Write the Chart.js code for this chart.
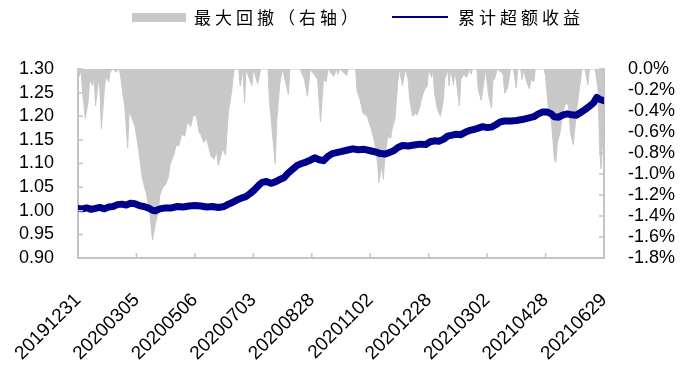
<!DOCTYPE html>
<html>
<head>
<meta charset="utf-8">
<script src="https://cdn.jsdelivr.net/npm/chart.js@4/dist/chart.umd.min.js"></script>
<style>
  body { margin: 0; background: #fff; }
  #wrap { width: 693px; height: 372px; }
</style>
</head>
<body>
<div id="wrap"><canvas id="chart"></canvas></div>
<script>
// x axis: trading day index, one label every 40 days
const tickLabels = ['20191231', '20200305', '20200506', '20200703', '20200828',
    '20201102', '20201228', '20210302', '20210428', '20210629'];

const seriesNames = ['累计超额收益', '最大回撤（右轴）'];

// cumulative excess return (left axis)
const returnDays = [
    0, 3, 6, 9, 12, 15, 18, 21, 24, 27,
    30, 33, 36, 39, 42, 45, 48, 51, 53, 56,
    60, 64, 68, 72, 76, 80, 84, 88, 92, 96,
    100, 103, 106, 109, 112, 115, 118, 121, 124, 126,
    129, 132, 135, 138, 141, 144, 147, 150, 153, 156,
    159, 162, 165, 168, 171, 174, 177, 180, 184, 188,
    192, 196, 200, 204, 207, 210, 213, 216, 219, 222,
    226, 230, 234, 238, 241, 244, 247, 250, 253, 256,
    259, 262, 265, 268, 271, 274, 277, 280, 283, 286,
    289, 292, 296, 300, 304, 308, 312, 315, 318, 321,
    324, 326, 329, 332, 335, 338, 341, 344, 347, 350,
    353, 355, 357, 360];
const returnValues = [
    1.005, 1.004, 1.006, 1.003, 1.005, 1.007, 1.004, 1.008, 1.009, 1.013,
    1.014, 1.012, 1.016, 1.015, 1.011, 1.009, 1.006, 1.001, 1.000, 1.004,
    1.006, 1.006, 1.009, 1.008, 1.010, 1.011, 1.010, 1.008, 1.009, 1.007,
    1.009, 1.014, 1.018, 1.023, 1.027, 1.030, 1.037, 1.045, 1.055, 1.060,
    1.062, 1.058, 1.061, 1.066, 1.070, 1.080, 1.088, 1.096, 1.100, 1.103,
    1.107, 1.112, 1.108, 1.106, 1.115, 1.121, 1.123, 1.125, 1.128, 1.131,
    1.129, 1.130, 1.127, 1.124, 1.121, 1.120, 1.123, 1.127, 1.134, 1.138,
    1.137, 1.139, 1.141, 1.140, 1.146, 1.148, 1.147, 1.151, 1.158, 1.160,
    1.162, 1.161, 1.166, 1.170, 1.172, 1.175, 1.178, 1.176, 1.177, 1.182,
    1.188, 1.190, 1.190, 1.191, 1.193, 1.196, 1.199, 1.205, 1.209, 1.209,
    1.205, 1.199, 1.198, 1.203, 1.205, 1.203, 1.202, 1.208, 1.214, 1.221,
    1.229, 1.240, 1.236, 1.233];

// max drawdown in % (right axis)
const drawdownDays = [
    0, 1, 2, 3, 5, 7, 8, 10, 11, 12,
    14, 15, 16, 18, 19, 21, 22, 24, 26, 28,
    29, 31, 32, 34, 35, 37, 39, 40, 42, 44,
    47, 49, 51, 52, 53, 55, 56, 58, 60, 62,
    63, 66, 67, 69, 71, 73, 75, 77, 79, 81,
    83, 84, 86, 88, 91, 93, 95, 96, 99, 101,
    102, 103, 105, 106, 107, 110, 111, 113, 114, 115,
    119, 120, 123, 125, 130, 131, 133, 135, 136, 138,
    140, 144, 145, 152, 155, 157, 159, 164, 166, 167,
    168, 170, 171, 175, 177, 178, 179, 184, 185, 190,
    191, 193, 195, 198, 200, 202, 203, 205, 206, 207,
    208, 209, 210, 212, 214, 215, 217, 219, 220, 222,
    224, 226, 227, 229, 231, 232, 234, 235, 237, 239,
    240, 242, 243, 244, 246, 248, 250, 251, 253, 254,
    255, 257, 258, 261, 262, 264, 266, 268, 269, 270,
    273, 274, 276, 278, 279, 281, 283, 284, 285, 287,
    291, 292, 294, 296, 298, 300, 301, 303, 304, 305,
    307, 309, 310, 312, 313, 319, 320, 322, 324, 325,
    326, 327, 328, 330, 331, 333, 335, 336, 337, 339,
    341, 343, 345, 347, 349, 350, 354, 356, 357, 358,
    359, 360];
const drawdownValues = [
    0, -0.07, 0, -0.2, -0.47, -0.3, -0.1, -0.16, -0.05, -0.35,
    -0.1, -0.2, -0.57, -0.2, -0.07, -0.12, -0.03, 0, -0.03, 0,
    -0.05, -0.27, -0.35, -0.75, -0.4, -0.47, -0.55, -0.63, -0.82, -1.04,
    -1.2, -1.36, -1.63, -1.55, -1.47, -1.35, -1.2, -1.13, -1.1, -1.02,
    -0.91, -0.8, -0.73, -0.73, -0.62, -0.64, -0.5, -0.55, -0.44, -0.45,
    -0.61, -0.62, -0.7, -0.66, -0.83, -0.86, -0.79, -0.92, -0.76, -0.82,
    -0.6, -0.4, -0.23, -0.1, 0, 0, -0.16, 0, -0.32, 0,
    -0.16, 0, -0.14, 0, 0, -0.3, -0.6, -0.9, -0.5, -0.15,
    0, -0.24, 0, 0, -0.1, -0.26, 0, -0.1, -0.5, -0.3,
    -0.1, -0.12, 0, -0.07, 0, -0.05, 0, -0.06, 0, 0,
    -0.21, -0.29, -0.42, -0.45, -0.54, -0.64, -0.7, -0.89, -1.08, -0.99,
    -0.91, -1.05, -0.83, -0.64, -0.66, -0.57, -0.47, -0.1, 0, -0.16,
    0, -0.1, -0.29, -0.45, -0.42, -0.44, -0.36, -0.29, -0.2, -0.16,
    0, -0.08, 0, -0.23, -0.38, -0.45, -0.3, -0.1, 0, -0.16,
    0, -0.15, 0, -0.35, -0.1, -0.05, -0.08, 0, -0.05, 0,
    0, -0.2, -0.3, -0.1, 0, -0.25, -0.37, -0.1, -0.1, 0,
    -0.05, -0.23, -0.18, 0, 0, -0.18, 0, 0, -0.1, 0,
    -0.12, -0.19, -0.1, -0.12, 0, 0, -0.07, -0.38, -0.5, -0.67,
    -0.86, -0.89, -0.71, -0.6, -0.48, -0.35, -0.32, -0.38, -0.61, -0.72,
    -0.42, -0.2, 0, 0, -0.15, 0, 0, -0.2, -0.76, -0.95,
    -0.7, -0.55];

const blue = '#00008b';
const grey = '#c8c8c8';
const axisColor = '#c4c4c4';
const tickFont = { family: '"Liberation Sans", Arial, sans-serif', size: 18 };

function toPoints(days, values) {
    return days.map((d, i) => ({ x: d, y: values[i] }));
}

// small tick marks drawn on the inner side of each axis
const innerTicks = {
    id: 'innerTicks',
    afterDatasetsDraw(chart) {
        const { ctx, chartArea: a, scales } = chart;
        ctx.save();
        ctx.strokeStyle = axisColor;
        ctx.lineWidth = 1.5;
        ctx.beginPath();
        scales.x.ticks.forEach((t, i) => {
            const px = scales.x.getPixelForTick(i);
            ctx.moveTo(px, a.bottom);
            ctx.lineTo(px, a.bottom - 5);
        });
        scales.y.ticks.forEach((t, i) => {
            const py = scales.y.getPixelForTick(i);
            ctx.moveTo(a.left, py);
            ctx.lineTo(a.left + 5, py);
        });
        scales.y1.ticks.forEach((t, i) => {
            const py = scales.y1.getPixelForTick(i);
            ctx.moveTo(a.right, py);
            ctx.lineTo(a.right - 5, py);
        });
        ctx.stroke();
        ctx.restore();
    }
};

// legend drawn at the top, grey box + blue line
const topLegend = {
    id: 'topLegend',
    afterDraw(chart) {
        const ctx = chart.ctx;
        ctx.save();
        ctx.font = '17px "Noto Sans CJK SC", sans-serif';
        ctx.letterSpacing = '4px';
        ctx.textBaseline = 'middle';
        ctx.fillStyle = grey;
        ctx.fillRect(132, 13, 54, 9);
        ctx.fillStyle = '#000';
        ctx.fillText(seriesNames[1], 194, 18);
        ctx.strokeStyle = blue;
        ctx.lineWidth = 2;
        ctx.beginPath();
        ctx.moveTo(392, 17);
        ctx.lineTo(448, 17);
        ctx.stroke();
        ctx.fillText(seriesNames[0], 458, 18);
        ctx.restore();
    }
};

new Chart(document.getElementById('chart'), {
    type: 'line',
    data: {
        datasets: [{
            label: seriesNames[0],
            data: toPoints(returnDays, returnValues),
            yAxisID: 'y',
            borderColor: blue,
            borderWidth: 7,
            borderJoinStyle: 'round',
            borderCapStyle: 'round',
            pointRadius: 0,
            fill: false,
            order: 0
        }, {
            label: seriesNames[1],
            data: toPoints(drawdownDays, drawdownValues),
            yAxisID: 'y1',
            borderColor: grey,
            borderWidth: 1,
            backgroundColor: grey,
            pointRadius: 0,
            fill: 'origin',
            order: 1
        }]
    },
    options: {
        responsive: true,
        maintainAspectRatio: false,
        animation: false,
        layout: { padding: { top: 69, left: 0, right: 0, bottom: 0 } },
        plugins: {
            legend: { display: false },
            tooltip: { enabled: false }
        },
        scales: {
            x: {
                type: 'linear',
                min: 0,
                max: 360,
                border: { color: axisColor, width: 2 },
                grid: { drawOnChartArea: false, drawTicks: false },
                ticks: {
                    stepSize: 40,
                    autoSkip: false,
                    minRotation: 45,
                    maxRotation: 45,
                    padding: 31,
                    color: '#000',
                    font: { family: tickFont.family, size: 19 },
                    callback: v => tickLabels[v / 40] || ''
                },
                afterFit: s => {
                    s.height = 114;
                    s.paddingLeft = 0;
                    s.paddingRight = 0;
                }
            },
            y: {
                position: 'left',
                min: 0.9,
                max: 1.3,
                border: { color: axisColor, width: 2 },
                grid: { drawOnChartArea: false, drawTicks: false },
                ticks: {
                    stepSize: 0.05,
                    autoSkip: false,
                    padding: 24,
                    color: '#000',
                    font: tickFont,
                    callback: v => v.toFixed(2)
                },
                afterFit: s => { s.width = 78; }
            },
            y1: {
                position: 'right',
                min: -1.8,
                max: 0,
                border: { color: axisColor, width: 2 },
                grid: { drawOnChartArea: false, drawTicks: false },
                ticks: {
                    stepSize: 0.2,
                    autoSkip: false,
                    padding: 24,
                    color: '#000',
                    font: tickFont,
                    callback: v => v.toFixed(1) + '%'
                },
                afterFit: s => { s.width = 89; }
            }
        }
    },
    plugins: [innerTicks, topLegend]
});
</script>
</body>
</html>
